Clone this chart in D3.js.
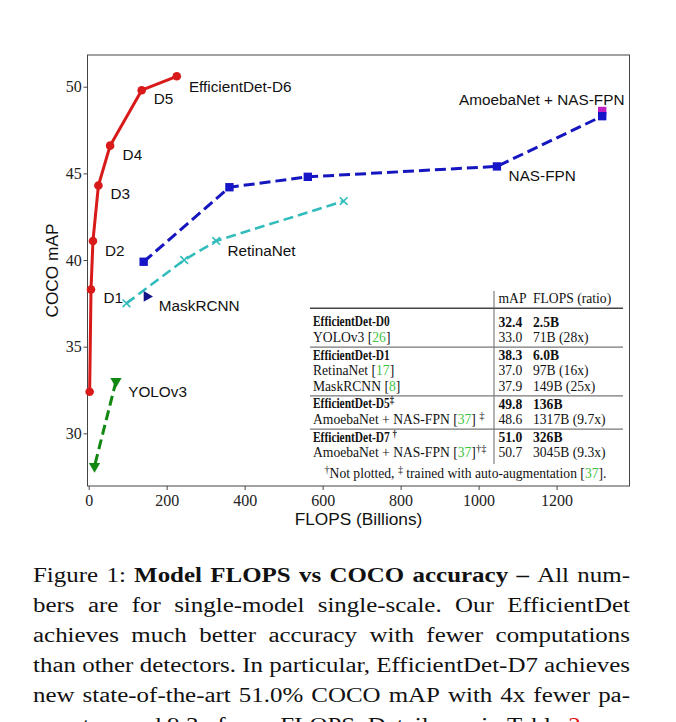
<!DOCTYPE html>
<html><head><meta charset="utf-8">
<script src="https://cdn.jsdelivr.net/npm/d3@7"></script>
<style>body{margin:0;background:#fff}</style>
</head><body>
<svg id="c" width="676" height="722"></svg>
<script>
// ---------- data ----------
const effNames = ["D0","D1","D2","D3","D4","D5","D6"];
const effFlops = [2.5, 6.0, 11, 25, 55, 136, 226];
const effMap = [32.4, 38.3, 41.1, 44.3, 46.6, 49.8, 50.6];
const nasFlops = [141, 361, 562, 1047, 1317];
const nasMap = [39.9, 44.2, 44.8, 45.4, 48.3];
const retinaFlops = [97, 245, 327, 654];
const retinaMap = [37.5, 40.0, 41.1, 43.4];
const yoloFlops = [70, 15];
const yoloMap = [33.0, 28.1];
const maskFlops = [149];
const maskMap = [37.9];
const amoebaFlops = [1317];
const amoebaMap = [48.6];
const xTicks = [0, 200, 400, 600, 800, 1000, 1200];
const yTicks = [30, 35, 40, 45, 50];
const xDomain = [-3, 1387];
const yDomain = [26.96, 51.83];
const xTitle = "FLOPS (Billions)";
const yTitle = "COCO mAP";
const labelText = ["EfficientDet-D6","D5","D4","D3","D2","D1","MaskRCNN","RetinaNet","AmoebaNet + NAS-FPN","NAS-FPN","YOLOv3"];
const labelX = [257, 167, 87, 56, 42, 38, 180, 356, 950, 1077, 101.5];
const labelY = [49.72, 49.0, 45.77, 43.5, 40.25, 37.54, 37.07, 40.25, 48.96, 44.56, 32.12];

const tableHeader = ["mAP", "FLOPS (ratio)"];
const tableModels = ["EfficientDet-D0","YOLOv3","EfficientDet-D1","RetinaNet","MaskRCNN","EfficientDet-D5","AmoebaNet + NAS-FPN","EfficientDet-D7","AmoebaNet + NAS-FPN"];
const tableRefs = ["", "26", "", "17", "8", "", "37", "", "37"];
const tableMarks = ["", "", "", "", "", "‡", " ‡", " †", "†‡"];
const tableMap = ["32.4","33.0","38.3","37.0","37.9","49.8","48.6","51.0","50.7"];
const tableFlops = ["2.5B","71B (28x)","6.0B","97B (16x)","149B (25x)","136B","1317B (9.7x)","326B","3045B (9.3x)"];
const tableBold = [true,false,true,false,false,true,false,true,false];
const tableGroupEnds = [1, 4, 6];

const captionLines = [
  "Figure 1: **Model FLOPS vs COCO accuracy –** All num-",
  "bers are for single-model single-scale. Our EfficientDet",
  "achieves much better accuracy with fewer computations",
  "than other detectors. In particular, EfficientDet-D7 achieves",
  "new state-of-the-art 51.0% COCO mAP with 4x fewer pa-",
  "rameters and 9.3x fewer FLOPS. Details are in Table ##2##."
];

// ---------- setup ----------
const svg = d3.select("#c");
const L = 87.5, R = 629.5, T = 55, B = 486;
const x = d3.scaleLinear().domain(xDomain).range([L, R]);
const y = d3.scaleLinear().domain(yDomain).range([B, T]);
const serif = "'Liberation Serif', 'Times New Roman', serif";
const sans = "'Liberation Sans', Arial, sans-serif";

// axes
const gx = svg.append("g").attr("transform", `translate(0,${B})`)
  .call(d3.axisBottom(x).tickValues(xTicks).tickSize(4).tickFormat(d3.format("d")));
gx.select(".domain").remove();
gx.selectAll("line").attr("stroke", "#333").attr("stroke-width", 0.9);
gx.selectAll("text").attr("y", 19.7).attr("dy", 0).attr("font-family", serif).attr("font-size", 16).attr("fill", "#222");

const gy = svg.append("g").attr("transform", `translate(${L},0)`)
  .call(d3.axisLeft(y).tickValues(yTicks).tickSize(4).tickFormat(d3.format("d")));
gy.select(".domain").remove();
gy.selectAll("line").attr("stroke", "#333").attr("stroke-width", 0.9);
gy.selectAll("text").attr("x", -5.8).attr("dy", "0.33em").attr("font-family", serif).attr("font-size", 16).attr("fill", "#222");

svg.append("rect").attr("x", L).attr("y", T).attr("width", R - L).attr("height", B - T)
  .attr("fill", "none").attr("stroke", "#444").attr("stroke-width", 1);

svg.append("text").attr("x", (L + R) / 2).attr("y", 525).attr("text-anchor", "middle")
  .attr("font-family", sans).attr("font-size", 17.3).attr("fill", "#111").text(xTitle);
svg.append("text").attr("transform", `translate(57.5,${(T + B) / 2}) rotate(-90)`).attr("text-anchor", "middle")
  .attr("font-family", sans).attr("font-size", 17.3).attr("fill", "#111").text(yTitle);

// ---------- series ----------
const plot = svg.append("g");
const line = d3.line().x(d => x(d[0])).y(d => y(d[1]));
const zip = (a, b) => a.map((v, i) => [v, b[i]]);

// YOLOv3
const yolo = zip(yoloFlops, yoloMap);
plot.append("path").attr("d", line(yolo)).attr("fill", "none").attr("stroke", "#118811")
  .attr("stroke-width", 3).attr("stroke-dasharray", "10,5");
plot.selectAll(".yo").data(yolo).join("path")
  .attr("transform", d => `translate(${x(d[0])},${y(d[1])}) rotate(180)`)
  .attr("d", d3.symbol(d3.symbolTriangle, 55)).attr("fill", "#118811");

// RetinaNet
const ret = zip(retinaFlops, retinaMap);
plot.append("path").attr("d", line(ret)).attr("fill", "none").attr("stroke", "#33bcbc")
  .attr("stroke-width", 2.6).attr("stroke-dasharray", "10,5");
plot.selectAll(".rx").data(ret).join("path")
  .attr("transform", d => `translate(${x(d[0])},${y(d[1])})`)
  .attr("d", d3.symbol(d3.symbolX, 40)).attr("fill", "none").attr("stroke", "#33bcbc").attr("stroke-width", 1.6);

// MaskRCNN
plot.selectAll(".mk").data(zip(maskFlops, maskMap)).join("path")
  .attr("transform", d => `translate(${x(d[0])},${y(d[1])}) rotate(90)`)
  .attr("d", d3.symbol(d3.symbolTriangle, 50)).attr("fill", "#14148a");

// AmoebaNet
plot.selectAll(".am").data(zip(amoebaFlops, amoebaMap)).join("path")
  .attr("transform", d => `translate(${x(d[0])},${y(d[1])})`)
  .attr("d", d3.symbol(d3.symbolSquare, 70)).attr("fill", "#c21fc2");

// NAS-FPN
const nas = zip(nasFlops, nasMap);
plot.append("path").attr("d", line(nas)).attr("fill", "none").attr("stroke", "#1616c0")
  .attr("stroke-width", 3).attr("stroke-dasharray", "11,5");
plot.selectAll(".ns").data(nas).join("path")
  .attr("transform", d => `translate(${x(d[0])},${y(d[1])})`)
  .attr("d", d3.symbol(d3.symbolSquare, 70)).attr("fill", "#1616c8");

// EfficientDet
const eff = zip(effFlops, effMap);
plot.append("path").attr("d", line(eff)).attr("fill", "none").attr("stroke", "#d81a1a")
  .attr("stroke-width", 3).attr("stroke-linejoin", "round");
plot.selectAll(".ef").data(eff).join("circle")
  .attr("cx", d => x(d[0])).attr("cy", d => y(d[1])).attr("r", 4.3).attr("fill", "#d81a1a");

// labels
plot.selectAll(".lbl").data(labelText).join("text")
  .attr("x", (d, i) => x(labelX[i])).attr("y", (d, i) => y(labelY[i]))
  .attr("font-family", sans).attr("font-size", 15.3).attr("fill", "#111").text(d => d);

// ---------- table ----------
const tg = svg.append("g").attr("font-family", serif).attr("font-size", 13.6).attr("fill", "#111");
const colMap = 498.5, colFl = 533, colName = 313;
const boldSx = 0.84;
tg.append("text").attr("x", colMap).attr("y", 303).text(tableHeader[0]);
tg.append("text").attr("x", colFl).attr("y", 303).text(tableHeader[1]);
tg.append("line").attr("x1", 310).attr("x2", 623).attr("y1", 308.3).attr("y2", 308.3)
  .attr("stroke", "#444").attr("stroke-width", 1.6);
tg.append("line").attr("x1", 494).attr("x2", 494).attr("y1", 291).attr("y2", 464)
  .attr("stroke", "#666").attr("stroke-width", 1);
const rowY = [];
let yy = 326.5;
tableModels.forEach((m, i) => {
  rowY.push(yy);
  yy += 15.6 + (tableGroupEnds.includes(i) ? 2 : 0);
});
tableModels.forEach((m, i) => {
  const b = tableBold[i];
  const t = tg.append("text").attr("y", rowY[i]).attr("font-weight", b ? "bold" : "normal");
  if (b) t.attr("x", colName / boldSx).attr("transform", `scale(${boldSx},1)`);
  else t.attr("x", colName);
  t.append("tspan").text(m);
  if (tableRefs[i]) {
    t.append("tspan").text(" [");
    t.append("tspan").attr("fill", "#3fc43f").text(tableRefs[i]);
    t.append("tspan").text("]");
  }
  if (tableMarks[i]) {
    const mk = tableMarks[i];
    if (mk.startsWith(" ")) t.append("tspan").text(" ");
    t.append("tspan").attr("font-size", 10.5).attr("dy", -5).text(mk.trim());
  }
  tg.append("text").attr("x", colMap).attr("y", rowY[i]).attr("font-weight", b ? "bold" : "normal").text(tableMap[i]);
  tg.append("text").attr("x", colFl).attr("y", rowY[i]).attr("font-weight", b ? "bold" : "normal").text(tableFlops[i]);
  if (tableGroupEnds.includes(i)) {
    tg.append("line").attr("x1", 310).attr("x2", 623).attr("y1", rowY[i] + 5).attr("y2", rowY[i] + 5)
      .attr("stroke", "#777").attr("stroke-width", 1.1);
  }
});
const fn = tg.append("text").attr("x", 465.5).attr("y", 478).attr("text-anchor", "middle");
fn.append("tspan").attr("font-size", 10).attr("dy", -5).text("†");
fn.append("tspan").attr("dy", 5).text("Not plotted, ");
fn.append("tspan").attr("font-size", 10).attr("dy", -5).text("‡");
fn.append("tspan").attr("dy", 5).text(" trained with auto-augmentation [");
fn.append("tspan").attr("fill", "#3fc43f").text("37");
fn.append("tspan").text("].");

// ---------- caption ----------
const cg = svg.append("g").attr("font-family", serif).attr("font-size", 21.6).attr("fill", "#111");
const capL = 33, capR = 630;
const parsed = captionLines.map(ln => {
  const words = [];
  let bold = false;
  ln.split(" ").forEach(w => {
    let b = bold, red = false, txt = w;
    if (txt.startsWith("**")) { bold = true; b = true; txt = txt.slice(2); }
    if (txt.endsWith("**")) { txt = txt.slice(0, -2); bold = false; }
    if (txt.includes("##")) red = true;
    words.push({ t: txt, b, red });
  });
  return words;
});
const lineNodes = parsed.map((words, li) => {
  const by = 582.5 + li * 30;
  return words.map(w => {
    const t = cg.append("text").attr("y", by).attr("font-weight", w.b ? "bold" : "normal");
    if (w.red) {
      const parts = w.t.split("##");
      t.append("tspan").text(parts[0]);
      t.append("tspan").attr("fill", "#e01010").text(parts[1]);
      t.append("tspan").text(parts[2]);
    } else t.text(w.t);
    return t;
  });
});
const space = 21.6 * 0.25;
const widthsAll = lineNodes.map(ns => ns.map(n => n.node().getComputedTextLength()));
// horizontal stretch derived from the tightest line (line 4 in the reference)
const natural4 = d3.sum(widthsAll[3]) + space * (widthsAll[3].length - 1);
const sx = (capR - capL) / natural4;
cg.attr("transform", `scale(${sx},1)`);
lineNodes.forEach((ns, li) => {
  const w = widthsAll[li];
  const last = li === lineNodes.length - 1;
  const gap = last ? space : ((capR - capL) / sx - d3.sum(w)) / (w.length - 1);
  let cx = capL / sx;
  ns.forEach((n, i) => { n.attr("x", cx); cx += w[i] + gap; });
});
</script>
</body></html>
